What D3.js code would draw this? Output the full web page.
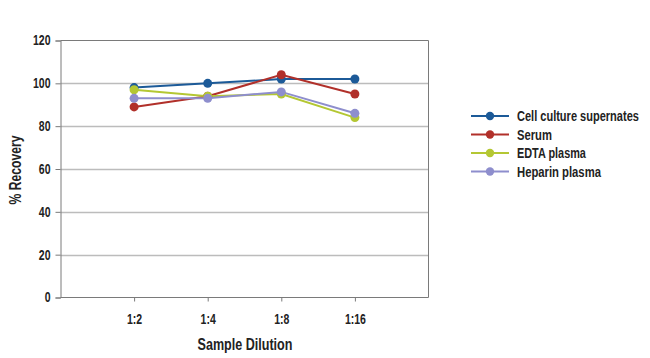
<!DOCTYPE html>
<html><head><meta charset="utf-8">
<script src="https://cdn.jsdelivr.net/npm/d3@7"></script>
<style>
body{margin:0;background:#fff;}
text{font-family:"Liberation Sans",Arial,sans-serif;font-weight:bold;fill:#222;}
</style></head>
<body><svg id="c" width="650" height="358"></svg>
<script>
const categories = ["1:2","1:4","1:8","1:16"];
const yTicks = [0,20,40,60,80,100,120];
const seriesNames = ["Cell culture supernates","Serum","EDTA plasma","Heparin plasma"];
const cellCulture = [98,100,102,102];
const serum = [89,94,104,95];
const edta = [97,94,95,84];
const heparin = [93,93,96,86];
const colors = ["#1c5a98","#b1302a","#b4c733","#8e8ecd"];
const seriesValues = [cellCulture, serum, edta, heparin];
const legendWidths = [122,35,69,84];

// horizontally condense a text about its anchor x
function squeeze(node, s){
  const x0 = +node.getAttribute("x") || 0;
  const prev = node.getAttribute("transform") || "";
  node.setAttribute("transform", `${prev} translate(${x0},0) scale(${s},1) translate(${-x0},0)`);
}

const svg = d3.select("#c");
const L=60.5, R=428.5, T=40.5, B=297.5;
const x = d3.scalePoint().domain(["", ...categories, " "]).range([L,R]);
const y = d3.scaleLinear().domain([0,120]).range([B,T]);

// gridlines
svg.append("g").selectAll("line").data(yTicks.filter(d=>d>0&&d<120)).join("line")
  .attr("x1",L).attr("x2",R).attr("y1",d=>Math.round(y(d))+0.5).attr("y2",d=>Math.round(y(d))+0.5)
  .attr("stroke","#bcbcbc").attr("stroke-width",1.3);
// border top/right
svg.append("path").attr("d",`M${L},${T}H${R}V${B}`).attr("fill","none").attr("stroke","#7a7a7a").attr("stroke-width",1);

// y axis
const ya = svg.append("g").attr("transform",`translate(${L},0)`)
  .call(d3.axisLeft(y).tickValues(yTicks).tickSize(5).tickPadding(5));
ya.select(".domain").attr("stroke","#7a7a7a");
ya.selectAll(".tick line").attr("stroke","#7a7a7a");
ya.selectAll("text").style("font-size","14px").attr("fill","#222").each(function(){squeeze(this,0.75);});

// x axis
const xa = svg.append("g").attr("transform",`translate(0,${B})`)
  .call(d3.axisBottom(x).tickValues(categories).tickSize(4).tickPadding(13).tickSizeOuter(0));
xa.select(".domain").attr("stroke","#7a7a7a").attr("d",`M${L},0H${R}`);
xa.selectAll(".tick line").attr("stroke","#7a7a7a");
xa.selectAll("text").style("font-size","14px").attr("fill","#222").each(function(){squeeze(this,0.75);});

// lines
const line = d3.line().x((d,i)=>x(categories[i])).y(d=>y(d));
seriesValues.forEach((vals,si)=>{
  svg.append("path").datum(vals).attr("d",line).attr("fill","none")
    .attr("stroke",colors[si]).attr("stroke-width",2);
});
seriesValues.forEach((vals,si)=>{
  svg.append("g").selectAll("circle").data(vals).join("circle")
    .attr("cx",(d,i)=>x(categories[i])).attr("cy",d=>y(d)).attr("r",4.5)
    .attr("fill",colors[si]);
});

// axis titles
const xt = svg.append("text").attr("x",245).attr("y",350).attr("text-anchor","middle")
  .style("font-size","17px").text("Sample Dilution");
squeeze(xt.node(), 95/xt.node().getComputedTextLength());
const yt = svg.append("text").attr("x",0).attr("y",0).attr("text-anchor","middle")
  .style("font-size","17px").text("% Recovery");
const ys = 69/yt.node().getComputedTextLength();
yt.attr("transform",`translate(21,170) rotate(-90) scale(${ys},1)`);

// legend
const lg = svg.append("g").attr("transform","translate(471,116)");
seriesNames.forEach((n,i)=>{
  const g = lg.append("g").attr("transform",`translate(0,${i*18.5})`);
  g.append("line").attr("x1",0).attr("x2",38).attr("stroke",colors[i]).attr("stroke-width",2);
  g.append("circle").attr("cx",19).attr("r",4.2).attr("fill",colors[i]);
  const t = g.append("text").attr("x",46).attr("y",5).style("font-size","14px").text(n);
  squeeze(t.node(), legendWidths[i]/t.node().getComputedTextLength());
});
</script></body></html>
